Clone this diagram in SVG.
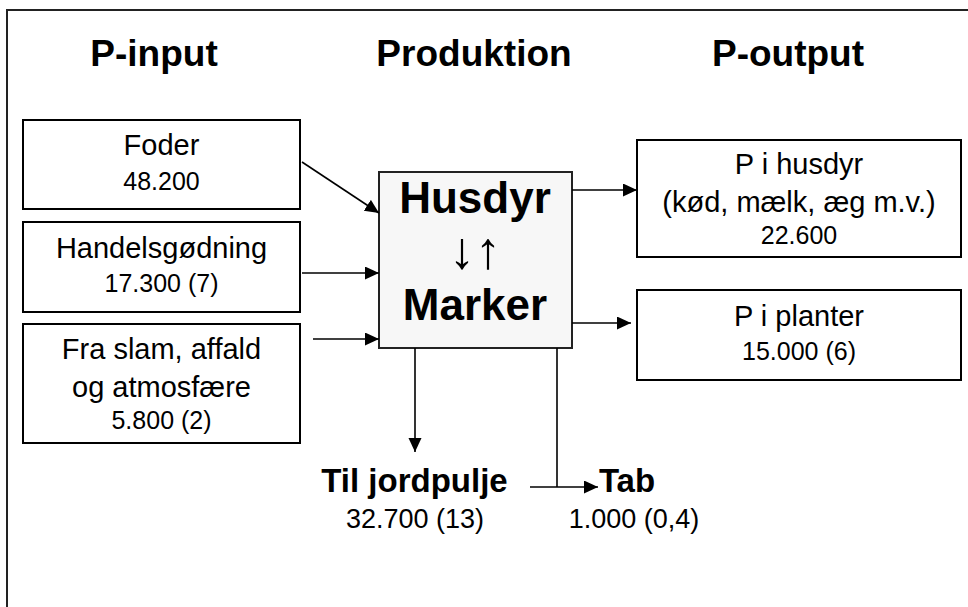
<svg xmlns="http://www.w3.org/2000/svg" width="968" height="607" viewBox="0 0 968 607">
<defs>
<style>
text{font-family:"Liberation Sans",Arial,sans-serif;fill:#000;text-anchor:middle}
.h{font-size:37px;font-weight:bold}
.t{font-size:29px}
.n{font-size:25px}
.m{font-size:44px;font-weight:bold}
.ar{font-size:52px}
.b{font-size:33px;font-weight:bold}
.bn{font-size:27px}
.box{fill:#fff;stroke:#000;stroke-width:2}
.main{fill:#f7f7f7;stroke:#222;stroke-width:2}
.c{stroke:#000;stroke-width:1.6;fill:none;marker-end:url(#ah)}
.l{stroke:#000;stroke-width:1.6;fill:none}
</style>
<marker id="ah" markerUnits="userSpaceOnUse" markerWidth="16" markerHeight="14" refX="14" refY="6.5" orient="auto">
<path d="M0,0 L14,6.5 L0,13 Z" fill="#000"/>
</marker>
</defs>
<rect width="968" height="607" fill="#fff"/>
<path d="M7,607 V10 H968" fill="none" stroke="#222" stroke-width="2"/>
<g id="headers">
<text class="h" x="154" y="66">P-input</text>
<text class="h" x="474" y="66">Produktion</text>
<text class="h" x="788" y="66">P-output</text>
</g>
<g id="foder">
<rect class="box" x="23" y="120" width="277" height="89"/>
<text class="t" x="161.5" y="155">Foder</text>
<text class="n" x="161.5" y="190">48.200</text>
</g>
<g id="handelsgodning">
<rect class="box" x="23" y="222" width="277" height="90"/>
<text class="t" x="161.5" y="258">Handelsgødning</text>
<text class="n" x="161.5" y="292">17.300 (7)</text>
</g>
<g id="slam">
<rect class="box" x="23" y="324" width="277" height="119"/>
<text class="t" x="161.5" y="359">Fra slam, affald</text>
<text class="t" x="161.5" y="397">og atmosfære</text>
<text class="n" x="161.5" y="429">5.800 (2)</text>
</g>
<g id="produktion">
<rect class="main" x="379" y="172" width="193" height="176"/>
<text class="m" x="475" y="213">Husdyr</text>
<text class="ar" x="475" y="268">↓↑</text>
<text class="m" x="475" y="320">Marker</text>
</g>
<g id="husdyr-out">
<rect class="box" x="637" y="140" width="324" height="117"/>
<text class="t" x="799" y="174">P i husdyr</text>
<text class="t" x="799" y="212">(kød, mælk, æg m.v.)</text>
<text class="n" x="799" y="244">22.600</text>
</g>
<g id="planter">
<rect class="box" x="637" y="290" width="324" height="90"/>
<text class="t" x="799" y="326">P i planter</text>
<text class="n" x="799" y="360">15.000 (6)</text>
</g>
<g id="jordpulje">
<text class="b" x="414.5" y="492">Til jordpulje</text>
<text class="bn" x="415" y="528">32.700 (13)</text>
</g>
<g id="tab">
<text class="b" x="627" y="492">Tab</text>
<text class="bn" x="634" y="528">1.000 (0,4)</text>
</g>
<g id="connectors">
<line class="c" x1="302" y1="162" x2="379" y2="213"/>
<line class="c" x1="302" y1="273" x2="379" y2="273"/>
<line class="c" x1="313" y1="339" x2="379" y2="339"/>
<line class="c" x1="572" y1="190" x2="637" y2="190"/>
<line class="c" x1="572" y1="323" x2="631" y2="323"/>
<line class="c" x1="415" y1="348" x2="415" y2="452"/>
<line class="l" x1="557" y1="348" x2="557" y2="487"/>
<line class="c" x1="530" y1="487" x2="598" y2="487"/>
</g>
</svg>
